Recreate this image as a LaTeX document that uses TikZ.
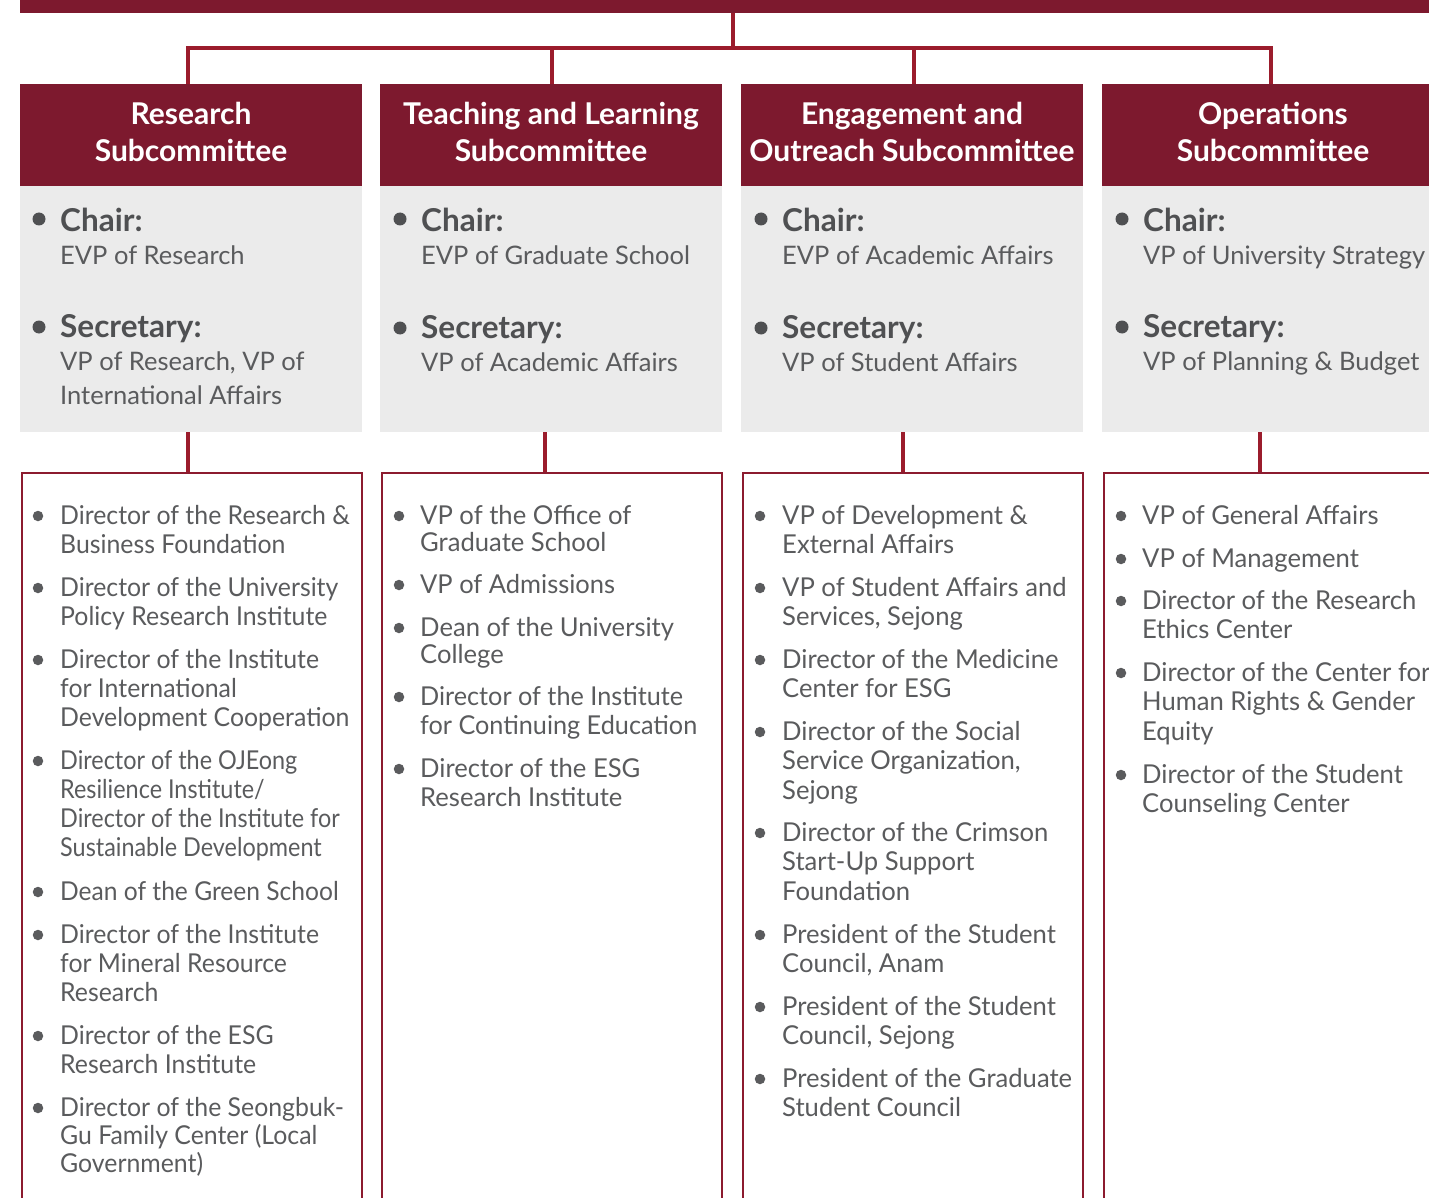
\documentclass[tikz,border=0pt]{standalone}
\usepackage{fontspec}
\setmainfont{Lato}
\definecolor{maroon}{HTML}{7D192E}
\definecolor{conn}{HTML}{9B1C2C}
\definecolor{boxline}{HTML}{8C1B2F}
\definecolor{greybg}{HTML}{EBEBEB}
\definecolor{txt}{HTML}{5A5B5D}
\definecolor{lbl}{HTML}{4F5052}
\newcommand\ml[1]{\begin{tabular}[t]{@{}l@{}}#1\end{tabular}}
\newcommand\mc[1]{\begin{tabular}[t]{@{}c@{}}#1\end{tabular}}
\begin{document}
\begin{tikzpicture}[x=1pt,y=-1pt,
  bar/.style={fill=maroon,draw=none,inner sep=0,minimum width=1420,minimum height=12.5,anchor=north west},
  hdr/.style={fill=maroon,draw=none,inner sep=0,minimum width=342,minimum height=102},
  hdt/.style={anchor=base,inner sep=0,text=white,font=\bfseries\fontsize{30}{37}\selectfont},
  greybox/.style={fill=greybg,draw=none,inner sep=0,minimum width=342,minimum height=246,anchor=north west},
  listbox/.style={draw=boxline,line width=2,fill=none,inner sep=0,minimum width=340,minimum height=760,anchor=north west},
  conn/.style={draw=conn,line width=3.5},
  dot/.style={circle,fill=txt,draw=none,inner sep=0,minimum size=10.5},
  bigdot/.style={circle,fill=lbl,draw=none,inner sep=0,minimum size=13},
  lab/.style={anchor=base west,inner sep=0,text=lbl,font=\bfseries\fontsize{31.5}{34}\selectfont},
  val/.style={anchor=base west,inner sep=0,text=txt,font=\fontsize{25.5}{34}\selectfont},
  itm/.style 2 args={anchor=base west,inner sep=0,text=txt,font=\fontsize{26}{#2}\selectfont\addfontfeature{FakeStretch=#1}},
]
\useasboundingbox (0,0) rectangle (1429,1198);
\clip (0,0) rectangle (1429,1198);

% top bar and bus
\node[bar] (top) at (20,0) {};
\coordinate (bj) at (733,48);
\coordinate (d1) at (188,48);
\coordinate (d2) at (552,48);
\coordinate (d3) at (914,48);
\coordinate (d4) at (1271,48);

% headers
\node[hdr] (h1) at (191,135) {};
\node[hdr] (h2) at (551,135) {};
\node[hdr] (h3) at (912,135) {};
\node[hdr] (h4) at (1273,135) {};
\node[hdt] (t1) at (191,125) {\mc{Research\\Subcommittee}};
\node[hdt] (t2) at (551,125) {\mc{Teaching and Learning\\Subcommittee}};
\node[hdt] (t3) at (912,125) {\mc{Engagement and\\Outreach Subcommittee}};
\node[hdt] (t4) at (1273,125) {\mc{Operations\\Subcommittee}};

\draw[conn] (bj |- top.south) -- (bj);
\draw[conn] ([xshift=-1.75]d1) -- ([xshift=1.75]d4);
\draw[conn] (d1) -- (d1 |- h1.north);
\draw[conn] (d2) -- (d2 |- h2.north);
\draw[conn] (d3) -- (d3 |- h3.north);
\draw[conn] (d4) -- (d4 |- h4.north);

% grey boxes
\node[greybox] (g1) at (20,186) {};
\node[greybox] (g2) at (380,186) {};
\node[greybox] (g3) at (741,186) {};
\node[greybox] (g4) at (1102,186) {};

% list boxes
\node[listbox] (L1) at (20.5,472) {};
\node[listbox] (L2) at (380.5,472) {};
\node[listbox] (L3) at (742,472) {};
\node[listbox] (L4) at (1103,472) {};

\coordinate (k1) at (188,0);
\coordinate (k2) at (545,0);
\coordinate (k3) at (903,0);
\coordinate (k4) at (1260,0);
\draw[conn] (g1.south -| k1) -- (L1.north -| k1);
\draw[conn] (g2.south -| k2) -- (L2.north -| k2);
\draw[conn] (g3.south -| k3) -- (L3.north -| k3);
\draw[conn] (g4.south -| k4) -- (L4.north -| k4);

% chair / secretary
\node[bigdot] (c1d) at (39,219) {};
\node[lab] (c1) at (60,232) {Chair:};
\node[val] (c1v) at (60,265) {EVP of Research};
\node[bigdot] (s1d) at (39,327) {};
\node[lab] (s1) at (60,337) {Secretary:};
\node[val] (s1v) at (60,370) {\ml{VP of Research, VP of\\International Affairs}};

\node[bigdot] (c2d) at (400,219) {};
\node[lab] (c2) at (421,232) {Chair:};
\node[val] (c2v) at (421,265) {EVP of Graduate School};
\node[bigdot] (s2d) at (400,328) {};
\node[lab] (s2) at (421,338) {Secretary:};
\node[val] (s2v) at (421,371) {VP of Academic Affairs};

\node[bigdot] (c3d) at (761,219) {};
\node[lab] (c3) at (782,232) {Chair:};
\node[val] (c3v) at (782,265) {EVP of Academic Affairs};
\node[bigdot] (s3d) at (761,328) {};
\node[lab] (s3) at (782,338) {Secretary:};
\node[val] (s3v) at (782,371) {VP of Student Affairs};

\node[bigdot] (c4d) at (1122,219) {};
\node[lab] (c4) at (1143,232) {Chair:};
\node[val] (c4v) at (1143,265) {VP of University Strategy};
\node[bigdot] (s4d) at (1122,327) {};
\node[lab] (s4) at (1143,337) {Secretary:};
\node[val] (s4v) at (1143,370) {VP of Planning \& Budget};

% column 1 list
\node[dot] (a1d) at (38,516) {};
\node[itm={0.955}{29.3}] (a1) at (60,524) {\ml{Director of the Research \&\\Business Foundation}};
\node[dot] (a2d) at (38,588) {};
\node[itm={0.955}{29.3}] (a2) at (60,596) {\ml{Director of the University\\Policy Research Institute}};
\node[dot] (a3d) at (38,660) {};
\node[itm={0.955}{29.3}] (a3) at (60,668) {\ml{Director of the Institute\\for International\\Development Cooperation}};
\node[dot] (a4d) at (38,761) {};
\node[itm={0.9}{29.1}] (a4) at (60,769) {\ml{Director of the OJEong\\Resilience Institute/\\Director of the Institute for\\Sustainable Development}};
\node[dot] (a5d) at (38,892) {};
\node[itm={0.945}{29.3}] (a5) at (60,900) {Dean of the Green School};
\node[dot] (a6d) at (38,935) {};
\node[itm={0.955}{29.3}] (a6) at (60,943) {\ml{Director of the Institute\\for Mineral Resource\\Research}};
\node[dot] (a7d) at (38,1036) {};
\node[itm={0.955}{29.3}] (a7) at (60,1044) {\ml{Director of the ESG\\Research Institute}};
\node[dot] (a8d) at (38,1108) {};
\node[itm={0.955}{26.5}] (a8) at (60,1116) {\ml{Director of the Seongbuk-\\Gu Family Center (Local\\Government)}};

% column 2 list
\node[dot] (b1d) at (399,516) {};
\node[itm={0.985}{26.2}] (b1) at (420,524) {\ml{VP of the Office of\\Graduate School}};
\node[dot] (b2d) at (399,585) {};
\node[itm={0.98}{29.3}] (b2) at (420,593) {VP of Admissions};
\node[dot] (b3d) at (399,628) {};
\node[itm={0.985}{26.2}] (b3) at (420,636) {\ml{Dean of the University\\College}};
\node[dot] (b4d) at (399,697) {};
\node[itm={0.97}{29.3}] (b4) at (420,705) {\ml{Director of the Institute\\for Continuing Education}};
\node[dot] (b5d) at (399,769) {};
\node[itm={0.985}{29.3}] (b5) at (420,777) {\ml{Director of the ESG\\Research Institute}};

% column 3 list
\node[dot] (e1d) at (760,516) {};
\node[itm={0.985}{29.3}] (e1) at (782,524) {\ml{VP of Development \&\\External Affairs}};
\node[dot] (e2d) at (760,588) {};
\node[itm={0.985}{29.3}] (e2) at (782,596) {\ml{VP of Student Affairs and\\Services, Sejong}};
\node[dot] (e3d) at (760,660) {};
\node[itm={0.985}{29.3}] (e3) at (782,668) {\ml{Director of the Medicine\\Center for ESG}};
\node[dot] (e4d) at (760,732) {};
\node[itm={0.985}{29.5}] (e4) at (782,740) {\ml{Director of the Social\\Service Organization,\\Sejong}};
\node[dot] (e5d) at (760,833) {};
\node[itm={0.985}{29.5}] (e5) at (782,841) {\ml{Director of the Crimson\\Start-Up Support\\Foundation}};
\node[dot] (e6d) at (760,935) {};
\node[itm={0.985}{29.3}] (e6) at (782,943) {\ml{President of the Student\\Council, Anam}};
\node[dot] (e7d) at (760,1007) {};
\node[itm={0.985}{29.3}] (e7) at (782,1015) {\ml{President of the Student\\Council, Sejong}};
\node[dot] (e8d) at (760,1079) {};
\node[itm={0.985}{29.3}] (e8) at (782,1087) {\ml{President of the Graduate\\Student Council}};

% column 4 list
\node[dot] (o1d) at (1121,516) {};
\node[itm={0.985}{29.3}] (o1) at (1142,524) {VP of General Affairs};
\node[dot] (o2d) at (1121,559) {};
\node[itm={0.985}{29.3}] (o2) at (1142,567) {VP of Management};
\node[dot] (o3d) at (1121,601) {};
\node[itm={0.985}{29.7}] (o3) at (1142,609) {\ml{Director of the Research\\Ethics Center}};
\node[dot] (o4d) at (1121,673) {};
\node[itm={0.985}{29.5}] (o4) at (1142,681) {\ml{Director of the Center for\\Human Rights \& Gender\\Equity}};
\node[dot] (o5d) at (1121,775) {};
\node[itm={0.985}{29.3}] (o5) at (1142,783) {\ml{Director of the Student\\Counseling Center}};
\end{tikzpicture}
\end{document}
